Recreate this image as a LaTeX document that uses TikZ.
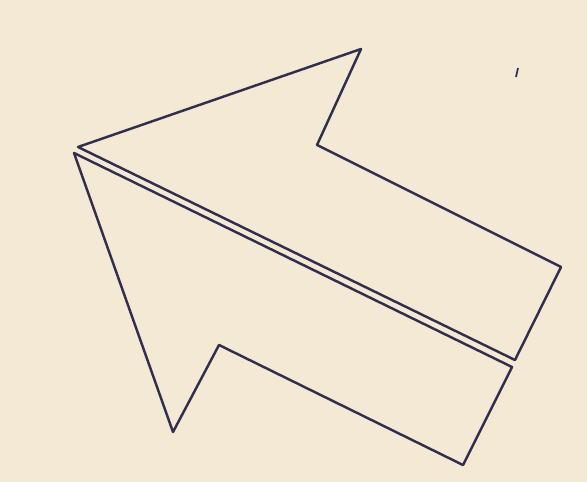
\documentclass[tikz,border=0pt]{standalone}
\usepackage{xcolor}
\usetikzlibrary{math}
\definecolor{paper}{RGB}{244,233,213}
\definecolor{ink}{RGB}{48,48,78}

\begin{document}
\begin{tikzpicture}[x=0.02cm,y=-0.02cm]
\tikzmath{
\lw=1.4;
}

\fill[color=paper] (0,0) rectangle (587,482);
\useasboundingbox (0,0) rectangle (587,482);

% upper half
\coordinate (TU) at (78,147);
\coordinate (BU) at (361,49);
\coordinate (NU) at (317,145);
\coordinate (RU) at (561,267);
\coordinate (SU) at (515,360);

% lower half
\coordinate (TL) at (74,153);
\coordinate (BL) at (173,432);
\coordinate (NL) at (219,345);
\coordinate (RL) at (463,465);
\coordinate (SL) at (512,367);

\draw[color=ink,line width=\lw pt,line join=round] (TU) -- (BU) -- (NU) -- (RU) -- (SU) -- cycle;
\draw[color=ink,line width=\lw pt,line join=round] (TL) -- (BL) -- (NL) -- (RL) -- (SL) -- cycle;

\draw[color=ink,line width=1pt] (518,68) -- (516,77);

\end{tikzpicture}
\end{document}
